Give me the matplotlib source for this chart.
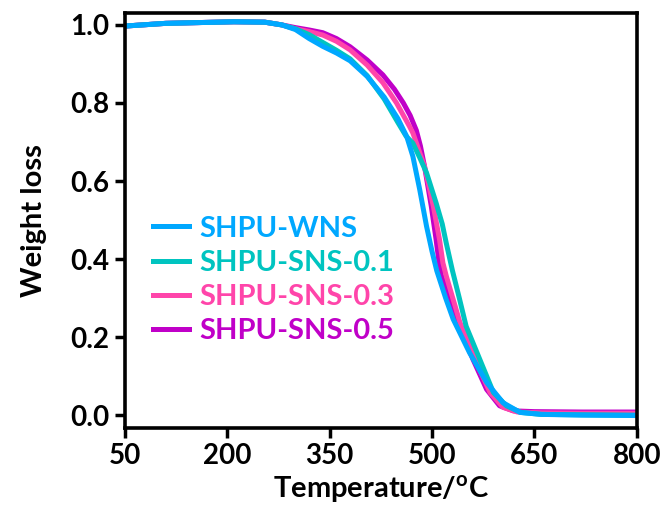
import numpy as np
import matplotlib
matplotlib.use('Agg')
import matplotlib.pyplot as plt

plt.rcParams['font.family'] = ['Lato', 'DejaVu Sans']
plt.rcParams['font.weight'] = 'bold'
plt.rcParams['mathtext.fontset'] = 'custom'
plt.rcParams['mathtext.rm'] = 'Lato:bold'
plt.rcParams['mathtext.bf'] = 'Lato:bold'

# TGA curves
T_wns = [50, 110, 210, 255, 280, 300, 320, 340, 360, 380, 405, 430, 450, 463, 472, 482, 492, 500, 507, 520, 531, 555, 580, 604, 629, 660, 720, 800]
w_wns = [0.997, 1.004, 1.008, 1.007, 1.0, 0.988, 0.965, 0.945, 0.928, 0.908, 0.868, 0.815, 0.76, 0.714, 0.663, 0.578, 0.484, 0.42, 0.37, 0.30, 0.246, 0.16, 0.084, 0.032, 0.007, 0.002, 0.0, -0.001]

T_s01 = [50, 110, 210, 255, 280, 300, 320, 340, 360, 380, 405, 430, 450, 462, 472, 482, 492, 506, 515, 521, 530, 540, 550, 570, 590, 609, 630, 660, 720, 800]
w_s01 = [0.997, 1.004, 1.008, 1.007, 1.0, 0.99, 0.975, 0.955, 0.935, 0.913, 0.87, 0.81, 0.75, 0.715, 0.697, 0.66, 0.621, 0.544, 0.49, 0.44, 0.37, 0.30, 0.228, 0.143, 0.058, 0.024, 0.007, 0.002, 0.001, 0.0]

T_s03 = [50, 110, 210, 255, 280, 300, 320, 340, 360, 380, 405, 428, 448, 467, 472, 489, 502, 511, 516, 521, 541, 565, 585, 604, 625, 660, 720, 800]
w_s03 = [0.997, 1.004, 1.008, 1.007, 1.0, 0.99, 0.983, 0.974, 0.958, 0.936, 0.897, 0.852, 0.80, 0.74, 0.723, 0.638, 0.535, 0.45, 0.39, 0.356, 0.237, 0.135, 0.058, 0.02, 0.008, 0.006, 0.005, 0.005]

T_s05 = [50, 110, 210, 255, 280, 300, 320, 340, 360, 380, 405, 428, 445, 458, 468, 477, 483, 489, 499, 506, 511, 514, 536, 560, 580, 599, 619, 650, 720, 800]
w_s05 = [0.997, 1.004, 1.008, 1.007, 1.0, 0.993, 0.987, 0.98, 0.965, 0.944, 0.91, 0.872, 0.835, 0.80, 0.768, 0.73, 0.69, 0.638, 0.535, 0.45, 0.382, 0.356, 0.246, 0.143, 0.066, 0.024, 0.011, 0.009, 0.008, 0.008]

names = ['SHPU-WNS', 'SHPU-SNS-0.1', 'SHPU-SNS-0.3', 'SHPU-SNS-0.5']
colors = ['#00A8FF', '#00C4C0', '#FF45AA', '#C000C8']
xticks = [50, 200, 350, 500, 650, 800]
yticks = [0.0, 0.2, 0.4, 0.6, 0.8, 1.0]

fig = plt.figure(figsize=(6.64, 5.12), dpi=100)
ax = fig.add_axes([0.188, 0.164, 0.771, 0.811])

# draw from back to front so blue sits on top
series = [(T_wns, w_wns), (T_s01, w_s01), (T_s03, w_s03), (T_s05, w_s05)]
lines = {}
for i in [3, 2, 1, 0]:
	T, w = series[i]
	l, = ax.plot(T, w, color=colors[i], lw=3.6, solid_joinstyle='round')
	lines[i] = l

ax.set_xlim(50, 800)
ax.set_ylim(-0.033, 1.031)
ax.set_xticks(xticks)
ax.set_yticks(yticks)
ax.set_yticklabels(['%.1f' % v for v in yticks])
ax.tick_params(direction='out', length=7, width=2.5, labelsize=20, pad=4)
for s in ax.spines.values():
	s.set_linewidth(2.6)

ax.set_xlabel(r'Temperature/$^{\mathbf{o}}$C', fontsize=21, fontweight='bold', labelpad=3)
ax.set_ylabel('Weight loss', fontsize=21, fontweight='bold', labelpad=17)

leg = ax.legend([lines[i] for i in range(4)], names, loc='center left', bbox_to_anchor=(0.0, 0.357), frameon=False,
	fontsize=21, handlelength=1.25, handletextpad=0.35, labelspacing=0.28, borderaxespad=0.55)
for t, c in zip(leg.get_texts(), colors):
	t.set_color(c)
	t.set_fontweight('bold')

plt.savefig('out.png', dpi=100)
